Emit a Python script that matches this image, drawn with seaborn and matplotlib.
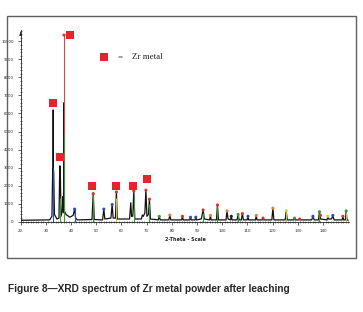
import matplotlib
matplotlib.use('Agg')
import matplotlib.pyplot as plt
import seaborn as sns
import pandas as pd
from matplotlib.patches import Rectangle
from matplotlib.ticker import MultipleLocator

# Spectrum trace (2-theta, counts)
two_theta = [20, 31.5, 32.4, 32.7, 32.85, 32.9, 32.95, 33.1, 33.4, 34.4, 35.2, 35.5, 35.6, 35.7, 36.0,
             36.5, 36.8, 37.0, 37.1, 37.2, 37.3, 38.0, 39.5, 40.8, 41.4, 41.8, 42.5,
             48.3, 48.8, 49.2, 52.5, 53.0, 53.4, 55.8, 56.3, 56.7, 57.6, 58.0, 58.3,
             63.2, 63.7, 64.0, 64.5, 64.9, 65.3, 67.9, 68.3, 68.7, 69.3, 69.7, 70.1, 70.7, 71.1, 71.5,
             74.6, 75.0, 75.4, 78.8, 79.2, 79.6, 83.9, 84.2, 84.5, 87.1, 87.4, 87.7, 89.2, 89.5, 89.8,
             91.7, 92.4, 92.9, 95.0, 95.3, 95.6, 97.7, 98.1, 98.5, 101.5, 101.9, 102.3, 103.3, 103.6, 103.9,
             105.9, 106.3, 106.7, 107.6, 108.0, 108.4, 109.9, 110.2, 110.5, 113.2, 113.5, 113.8,
             115.9, 116.2, 116.5, 119.7, 120.1, 120.5, 125.0, 125.4, 125.8, 128.4, 128.7, 129.0,
             130.4, 130.7, 131.0, 135.5, 136.0, 136.5, 138.2, 138.6, 139.0, 141.6, 141.9, 142.2,
             143.4, 143.9, 144.4, 147.6, 147.9, 148.2, 148.9, 149.2, 149.5, 150]
counts = [80, 100, 300, 2900, 3000, 6200, 3000, 2700, 400, 150, 200, 3000, 3100, 3000, 300,
          600, 1400, 500, 600, 6600, 600, 400, 250, 350, 700, 200, 100,
          120, 1600, 120, 100, 700, 150, 200, 950, 200, 200, 1650, 150,
          150, 1050, 300, 300, 1700, 150, 150, 370, 300, 500, 1750, 300, 400, 1250, 150,
          100, 300, 100, 100, 370, 100, 100, 300, 100, 100, 250, 100, 100, 250, 100,
          150, 650, 150, 100, 350, 100, 100, 930, 100, 100, 600, 150, 100, 300, 100,
          100, 400, 100, 100, 450, 100, 100, 300, 100, 100, 350, 100,
          100, 200, 100, 100, 750, 100, 100, 600, 100, 100, 200, 100,
          100, 150, 100, 100, 300, 100, 100, 550, 150, 100, 300, 150,
          150, 350, 100, 100, 300, 100, 100, 600, 100, 80]

# Reference pattern sticks
stick_pos = [32.9, 35.5, 37.2, 37.2, 41.4, 48.8, 58.0, 64.9, 71.1, 92.4, 98.1, 106.3, 125.4, 138.6, 149.2]
stick_int = [3000, 1300, 10350, 4800, 700, 1500, 1300, 1400, 1000, 500, 850, 380, 550, 500, 550]
stick_col = ['#3050b0', '#3a9a3a', '#d84a40', '#3a9a3a', '#3050b0', '#3a9a3a', '#c8c040', '#3a9a3a',
             '#3a9a3a', '#3a9a3a', '#3a9a3a', '#3a9a3a', '#b0d050', '#3a9a3a', '#b0d050']

# Coloured dots on peak tops
dot_pos = [37.2, 48.8, 58.0, 64.9, 69.7, 71.1, 41.4, 53.0, 56.3, 75.0, 79.2, 84.2, 87.4, 89.5, 92.4,
           95.3, 98.1, 101.9, 103.6, 106.3, 108.0, 110.2, 113.5, 116.2, 120.1, 125.4, 128.7, 130.7,
           136.0, 138.6, 139.0, 141.9, 143.9, 147.9, 149.2]
dot_int = [10350, 1550, 1650, 1700, 1750, 1250, 700, 700, 950, 300, 370, 300, 250, 250, 650,
           350, 930, 600, 300, 400, 450, 300, 350, 200, 750, 600, 200, 150,
           300, 550, 350, 300, 350, 300, 600]
dot_col = ['red', 'red', 'red', 'red', 'red', 'red', 'blue', 'blue', 'blue', 'green', 'orange', 'red',
           'blue', 'blue', 'red', 'orange', 'red', 'orange', 'black', 'green', 'red', 'blue', 'orange',
           'red', 'orange', 'yellow', 'green', 'red', 'blue', 'green', 'red', 'yellow', 'blue', 'red', 'green']
dot_palette = {'red': '#e0302a', 'blue': '#3050b0', 'green': '#3a9a3a', 'orange': '#e08030',
               'black': '#202020', 'yellow': '#c8d040'}

# Zr metal markers (red squares)
zr_pos = [32.9, 35.6, 39.6, 48.5, 58.0, 64.4, 70.3]
zr_int = [6570, 3570, 10330, 1980, 1980, 1980, 2350]

sns.set_style("white")
fig = plt.figure(figsize=(3.63, 3.12), dpi=100)
ax = fig.add_axes([0.057, 0.2894, 0.905, 0.6157])

trace = pd.DataFrame({'two_theta': two_theta, 'counts': counts})
sns.lineplot(data=trace, x='two_theta', y='counts', sort=False, color='#111111', lw=0.9, ax=ax, zorder=3)
ax.vlines(stick_pos, 0, stick_int, colors=stick_col, lw=0.8, zorder=4)

dots = pd.DataFrame({'x': dot_pos, 'y': dot_int, 'c': dot_col})
sns.scatterplot(data=dots, x='x', y='y', hue='c', palette=dot_palette, s=5, linewidth=0,
                legend=False, ax=ax, zorder=5)

zr = pd.DataFrame({'x': zr_pos, 'y': zr_int})
sns.scatterplot(data=zr, x='x', y='y', marker='s', s=32, color='#e8242a', linewidth=0, ax=ax,
                zorder=6, clip_on=False)

# legend drawn in the plot
ax.scatter([52.9], [9130], marker='s', s=32, color='#e8242a', linewidth=0)
ax.text(59.4, 9130, '=', fontsize=6.5, family='Liberation Serif', ha='center', va='center')
ax.text(64.0, 9130, 'Zr metal', fontsize=6.5, family='Liberation Serif', ha='left', va='center')

ax.set_xlim(20, 150.4)
ax.set_ylim(0, 10650)
ax.xaxis.set_minor_locator(MultipleLocator(1))
ax.yaxis.set_minor_locator(MultipleLocator(200))
ax.set_xticks(range(20, 150, 10))
ax.set_yticks(range(0, 10001, 1000))
ax.tick_params(which='major', direction='out', length=2, width=0.5, labelsize=2.8, pad=3)
ax.tick_params(which='minor', direction='inout', length=2, width=0.4)
ax.tick_params(axis='both', which='both', bottom=True, left=True)
for s in ['top', 'right']:
    ax.spines[s].set_visible(False)
for s in ['left', 'bottom']:
    ax.spines[s].set_linewidth(0.6)
    ax.spines[s].set_color('#222222')
ax.set_xlabel('2-Theta - Scale', fontsize=3.5, fontweight='bold', labelpad=3)
ax.set_ylabel('')
ax.annotate('', xy=(0, 1.0), xytext=(0, 0.97), xycoords='axes fraction',
            arrowprops=dict(arrowstyle='-|>', lw=0.5, color='#222222', mutation_scale=4))

# frame around the chart
fig.patches.append(Rectangle((0.0193, 0.173), 0.9614, 0.7756, transform=fig.transFigure,
                             fill=False, edgecolor='#606060', lw=1.0))

fig.text(8 / 363, 0.0737, 'Figure 8\u2014XRD spectrum of Zr metal powder after leaching',
         fontsize=7.3, fontweight='bold', family='Liberation Sans', ha='left', va='center')

fig.savefig('out.png', dpi=100)
